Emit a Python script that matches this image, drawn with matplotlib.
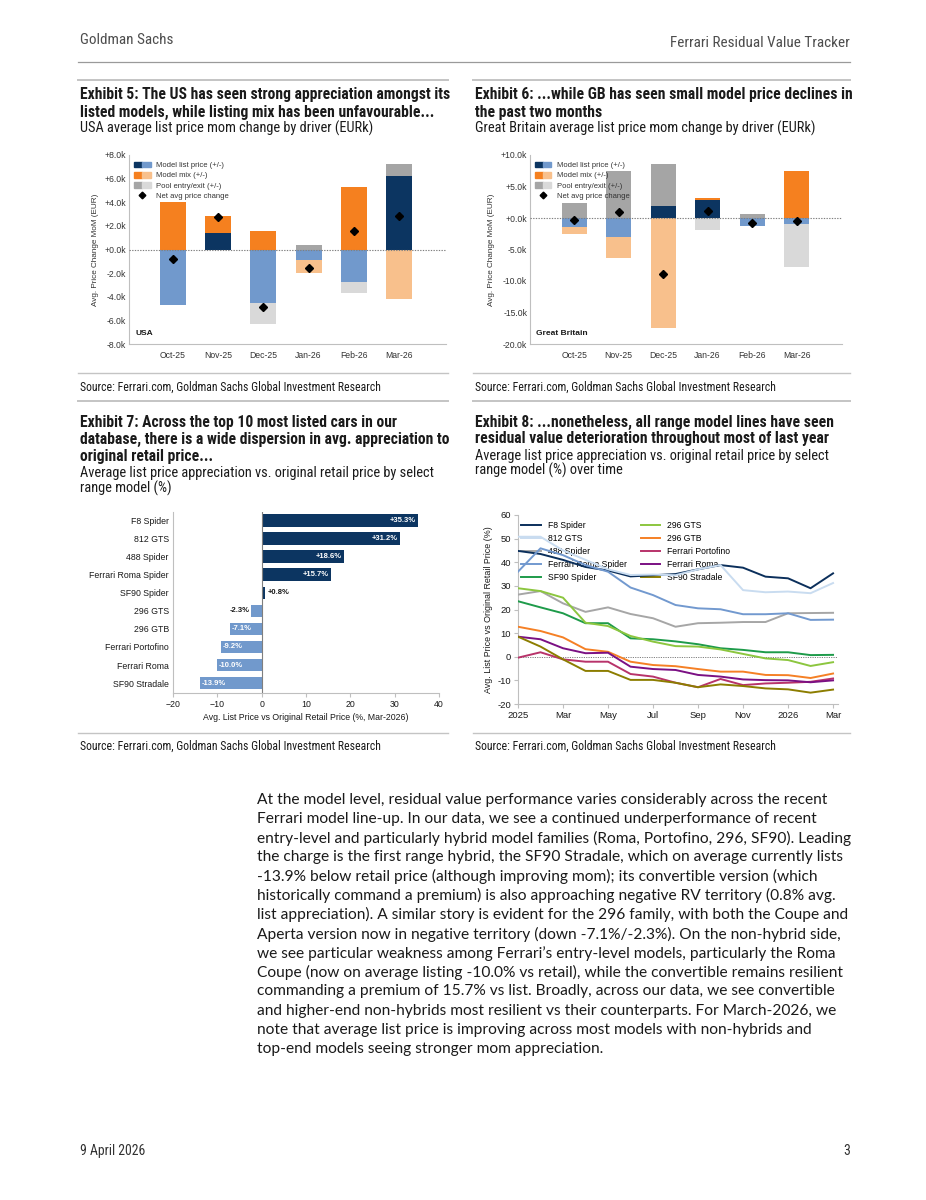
import numpy as np
import matplotlib
matplotlib.use('Agg')
import matplotlib.pyplot as plt
from matplotlib.patches import Patch
from matplotlib.lines import Line2D
from matplotlib.legend_handler import HandlerTuple
from matplotlib import font_manager as fm

# ---------------- data ----------------
bar_months = ['Oct-25', 'Nov-25', 'Dec-25', 'Jan-26', 'Feb-26', 'Mar-26']

us_list_price = [-4.7, 1.4, -4.5, -0.9, -2.75, 6.2]
us_model_mix = [4.0, 1.4, 1.55, -1.05, 5.3, -4.2]
us_pool = [0.0, 0.0, -1.8, 0.4, -0.95, 1.0]
us_net = [-0.8, 2.75, -4.85, -1.55, 1.6, 2.8]
us_yticks = [-8, -6, -4, -2, 0, 2, 4, 6, 8]

gb_list_price = [-1.5, -3.0, 1.9, 2.9, -1.2, -1.0]
gb_model_mix = [-1.0, -3.4, -17.5, 0.2, 0.0, 7.5]
gb_pool = [2.4, 7.5, 6.7, -1.9, 0.6, -6.8]
gb_net = [-0.3, 1.0, -8.9, 1.1, -0.8, -0.4]
gb_yticks = [-20, -15, -10, -5, 0, 5, 10]

driver_labels = ['Model list price (+/-)', 'Model mix (+/-)',
                 'Pool entry/exit (+/-)', 'Net avg price change']

top10_models = ['F8 Spider', '812 GTS', '488 Spider', 'Ferrari Roma Spider',
                'SF90 Spider', '296 GTS', '296 GTB', 'Ferrari Portofino',
                'Ferrari Roma', 'SF90 Stradale']
top10_values = [35.3, 31.2, 18.6, 15.7, 0.8, -2.3, -7.1, -9.2, -10.0, -13.9]
top10_xticks = [-20, -10, 0, 10, 20, 30, 40]

line_months = ['Jan-25', 'Feb-25', 'Mar-25', 'Apr-25', 'May-25', 'Jun-25',
               'Jul-25', 'Aug-25', 'Sep-25', 'Oct-25', 'Nov-25', 'Dec-25',
               'Jan-26', 'Feb-26', 'Mar-26']
line_tick_labels = ['2025', 'Mar', 'May', 'Jul', 'Sep', 'Nov', '2026', 'Mar']
line_yticks = [-20, -10, 0, 10, 20, 30, 40, 50, 60]

f8_spider = [44.8, 43.5, 41.0, 38.0, 36.5, 34.0, 34.5, 35.0, 37.0, 38.8, 37.7, 33.9, 33.2, 29.0, 35.3]
gts_812 = [50.8, 50.8, 45.0, 41.0, 37.0, 34.6, 34.8, 34.5, 37.0, 38.8, 28.2, 27.3, 27.6, 26.9, 31.2]
spider_488 = [26.3, 27.8, 22.6, 19.0, 20.9, 18.1, 16.3, 12.7, 14.2, 14.4, 14.7, 14.7, 18.4, 18.5, 18.6]
roma_spider = [36.0, 45.9, 43.0, 38.8, 36.0, 29.3, 26.1, 21.9, 20.5, 20.1, 18.0, 18.0, 18.4, 15.6, 15.7]
sf90_spider = [23.5, 20.9, 18.4, 14.2, 14.2, 7.8, 7.4, 6.5, 5.3, 3.6, 2.9, 1.9, 1.9, 0.7, 0.8]
gts_296 = [29.0, 27.8, 25.0, 14.4, 13.0, 8.8, 6.4, 4.5, 4.3, 3.1, 1.2, -0.7, -1.4, -3.9, -2.3]
gtb_296 = [12.7, 10.9, 8.2, 3.2, 2.1, -2.1, -3.5, -4.0, -5.2, -6.3, -6.3, -7.7, -7.8, -9.0, -7.1]
portofino = [-0.4, 1.9, -1.1, -2.1, -2.1, -7.3, -8.4, -11.0, -12.9, -9.4, -12.0, -11.3, -11.0, -10.6, -9.2]
roma = [8.5, 7.4, 3.6, 1.5, 1.7, -4.2, -5.2, -5.6, -7.7, -8.4, -9.6, -9.9, -10.0, -10.8, -10.0]
sf90_stradale = [8.5, 4.3, -1.1, -6.0, -6.0, -9.8, -9.8, -11.0, -12.9, -11.7, -12.4, -13.4, -13.8, -15.2, -13.9]

line_names = ['F8 Spider', '812 GTS', '488 Spider', 'Ferrari Roma Spider', 'SF90 Spider',
              '296 GTS', '296 GTB', 'Ferrari Portofino', 'Ferrari Roma', 'SF90 Stradale']
line_series = [f8_spider, gts_812, spider_488, roma_spider, sf90_spider,
               gts_296, gtb_296, portofino, roma, sf90_stradale]

# ---------------- style ----------------
NAVY = '#0c3561'
LBLUE = '#7199cc'
ORANGE = '#f5801f'
LORANGE = '#f8c08c'
DGRAY = '#a5a5a5'
LGRAY = '#d9d9d9'
SPINE = '#bfbfbf'
TXT = '#1a1a1a'
line_colors = ['#0b2f5b', '#c9dcf0', '#a6a6a6', '#7299cf', '#1e9b4a',
               '#8cc63f', '#f58025', '#b8336a', '#7b1083', '#8c7d00']

avail = {f.name for f in fm.fontManager.ttflist}
def pick(*names):
    for n in names:
        if n in avail:
            return n
    return 'DejaVu Sans'

COND = pick('Liberation Sans Narrow', 'Roboto Condensed', 'Open Sans Condensed', 'Roboto', 'Lato')
BODY = pick('Lato', 'Open Sans', 'Noto Sans', 'Roboto')
CHART = pick('Liberation Sans', 'Arial', 'DejaVu Sans')
plt.rcParams['font.family'] = [CHART, 'DejaVu Sans']

W, H = 926, 1200
fig = plt.figure(figsize=(W / 100, H / 100), dpi=100)
fig.patch.set_facecolor('white')
renderer = fig.canvas.get_renderer()

def fx(x):
    return x / W

def fy(y):
    return 1 - y / H

def axrect(l, t, r, b):
    return [fx(l), fy(b), (r - l) / W, (b - t) / H]

def fit_size(s, width, family, weight='normal'):
    t = fig.text(0, 0, s, fontsize=10, family=family, weight=weight)
    w = t.get_window_extent(renderer).width
    t.remove()
    return 10 * width / w

def ftext(x, y, s, size, family, weight='normal', color=TXT, ha='left', va='center'):
    return fig.text(fx(x), fy(y), s, fontsize=size, family=family, weight=weight,
                    color=color, ha=ha, va=va)

def hrule(x0, x1, y, color='#c4c4c4', lw=1.4):
    fig.add_artist(Line2D([fx(x0), fx(x1)], [fy(y), fy(y)], transform=fig.transFigure,
                          color=color, lw=lw))

# ---------------- page text ----------------
hdr = fit_size('Ferrari Residual Value Tracker', 178, COND)
ftext(80, 40, 'Goldman Sachs', hdr, COND, color='#4d4d4d')
ftext(850, 43, 'Ferrari Residual Value Tracker', hdr, COND, color='#4d4d4d', ha='right')
hrule(78, 850, 62, color='#9a9a9a', lw=0.9)

for x0, x1 in [(78, 448), (473, 850)]:
    hrule(x0, x1, 80)
    hrule(x0, x1, 373, lw=1.0)
    hrule(x0, x1, 401)
    hrule(x0, x1, 733, lw=1.0)

tsize = fit_size('database, there is a wide dispersion in avg. appreciation to', 369, COND, 'bold')
ssize = fit_size('Average list price appreciation vs. original retail price by select', 354, COND)

ftext(80, 95, 'Exhibit 5: The US has seen strong appreciation amongst its', tsize, COND, 'bold')
ftext(80, 112, 'listed models, while listing mix has been unfavourable...', tsize, COND, 'bold')
ftext(80, 128, 'USA average list price mom change by driver (EURk)', ssize, COND)

ftext(475, 95, 'Exhibit 6: ...while GB has seen small model price declines in', tsize, COND, 'bold')
ftext(475, 112, 'the past two months', tsize, COND, 'bold')
ftext(475, 128, 'Great Britain average list price mom change by driver (EURk)', ssize, COND)

ftext(80, 422, 'Exhibit 7: Across the top 10 most listed cars in our', tsize, COND, 'bold')
ftext(80, 439, 'database, there is a wide dispersion in avg. appreciation to', tsize, COND, 'bold')
ftext(80, 456, 'original retail price...', tsize, COND, 'bold')
ftext(80, 473, 'Average list price appreciation vs. original retail price by select', ssize, COND)
ftext(80, 488, 'range model (%)', ssize, COND)

ftext(475, 422, 'Exhibit 8: ...nonetheless, all range model lines have seen', tsize, COND, 'bold')
ftext(475, 439, 'residual value deterioration throughout most of last year', tsize, COND, 'bold')
ftext(475, 456, 'Average list price appreciation vs. original retail price by select', ssize, COND)
ftext(475, 470, 'range model (%) over time', ssize, COND)

src = 'Source: Ferrari.com, Goldman Sachs Global Investment Research'
srcsize = fit_size(src, 300, COND)
for x0 in (80, 475):
    ftext(x0, 387, src, srcsize, COND)
    ftext(x0, 746, src, srcsize, COND)

para = [
    "At the model level, residual value performance varies considerably across the recent",
    "Ferrari model line-up. In our data, we see a continued underperformance of recent",
    "entry-level and particularly hybrid model families (Roma, Portofino, 296, SF90). Leading",
    "the charge is the first range hybrid, the SF90 Stradale, which on average currently lists",
    "-13.9% below retail price (although improving mom); its convertible version (which",
    "historically command a premium) is also approaching negative RV territory (0.8% avg.",
    "list appreciation). A similar story is evident for the 296 family, with both the Coupe and",
    "Aperta version now in negative territory (down -7.1%/-2.3%). On the non-hybrid side,",
    "we see particular weakness among Ferrari\u2019s entry-level models, particularly the Roma",
    "Coupe (now on average listing -10.0% vs retail), while the convertible remains resilient",
    "commanding a premium of 15.7% vs list. Broadly, across our data, we see convertible",
    "and higher-end non-hybrids most resilient vs their counterparts. For March-2026, we",
    "note that average list price is improving across most models with non-hybrids and",
    "top-end models seeing stronger mom appreciation.",
]
psize = fit_size(para[2], 595, BODY)
for i, line in enumerate(para):
    ftext(257, 800 + i * 19.15, line, psize, BODY)

fsize = fit_size('9 April 2026', 65, COND)
ftext(80, 1151, '9 April 2026', fsize, COND, color='#333333')
ftext(850, 1151, '3', fsize, COND, color='#333333', ha='right')

# ---------------- Exhibits 5 & 6 ----------------
def driver_chart(rect, comps, net, yticks, xlim, width, region):
    ax = fig.add_axes(rect)
    x = np.arange(len(bar_months))
    pos_base = np.zeros(len(x))
    neg_base = np.zeros(len(x))
    for vals, cp, cn in zip(comps, [NAVY, ORANGE, DGRAY], [LBLUE, LORANGE, LGRAY]):
        v = np.asarray(vals, dtype=float)
        pos = np.where(v > 0, v, 0)
        neg = np.where(v < 0, v, 0)
        ax.bar(x, pos, width, bottom=pos_base, color=cp, linewidth=0, zorder=2)
        ax.bar(x, neg, width, bottom=neg_base, color=cn, linewidth=0, zorder=2)
        pos_base += pos
        neg_base += neg
    ax.axhline(0, color='#7f7f7f', lw=0.8, ls=(0, (1.2, 1.2)), zorder=3)
    ax.plot(x, net, linestyle='none', marker='D', ms=3.6, color='black', zorder=4)
    ax.set_xlim(*xlim)
    ax.set_ylim(yticks[0], yticks[-1])
    ax.set_yticks(yticks)
    ax.set_yticklabels([f'{v:+.1f}k' for v in yticks])
    ax.set_xticks(x)
    ax.set_xticklabels(bar_months)
    for s in ['top', 'right']:
        ax.spines[s].set_visible(False)
    for s in ['left', 'bottom']:
        ax.spines[s].set_color(SPINE)
        ax.spines[s].set_linewidth(0.8)
    ax.tick_params(axis='both', labelsize=6.2, colors='#333333', length=0, pad=2)
    ax.tick_params(axis='x', pad=5)
    ax.set_ylabel('Avg. Price Change MoM (EUR)', fontsize=5.9, color='#333333', labelpad=4)
    handles = [(Patch(color=NAVY), Patch(color=LBLUE)),
               (Patch(color=ORANGE), Patch(color=LORANGE)),
               (Patch(color=DGRAY), Patch(color=LGRAY)),
               Line2D([], [], linestyle='none', marker='D', ms=3.4, color='black')]
    leg = ax.legend(handles, driver_labels, handler_map={tuple: HandlerTuple(ndivide=None, pad=0)},
                    loc='upper left', bbox_to_anchor=(0.015, 0.965), frameon=False, fontsize=5.5,
                    handlelength=2.2, handleheight=0.8, labelspacing=0.34, handletextpad=0.7,
                    borderaxespad=0, borderpad=0)
    for t in leg.get_texts():
        t.set_color('#333333')
    ax.text(0.02, 0.058, region, transform=ax.transAxes, fontsize=6, weight='bold',
            color='#1a1a1a', va='center')
    return ax

driver_chart(axrect(129, 155, 446, 344), [us_list_price, us_model_mix, us_pool], us_net,
             us_yticks, (-0.97, 6.04), 0.575, 'USA')
driver_chart(axrect(530, 155, 842, 344), [gb_list_price, gb_model_mix, gb_pool], gb_net,
             gb_yticks, (-0.99, 6.02), 0.56, 'Great Britain')

# ---------------- Exhibit 7 ----------------
ax7 = fig.add_axes(axrect(173, 512, 439, 693))
y7 = np.arange(len(top10_models))
cols7 = [NAVY if v > 0 else LBLUE for v in top10_values]
ax7.barh(y7, top10_values, height=0.7, color=cols7, linewidth=0, zorder=2)
ax7.axvline(0, color='#7f7f7f', lw=0.8, zorder=3)
for yi, v in zip(y7, top10_values):
    lab = f'{v:+.1f}%' if v > 0 else f'{v:.1f}%'
    if abs(v) < 5:
        if v > 0:
            ax7.text(v + 0.5, yi, lab, ha='left', va='center', fontsize=5.5, weight='bold', color='#1a1a1a')
        else:
            ax7.text(v - 0.4, yi, lab, ha='right', va='center', fontsize=5.5, weight='bold', color='#1a1a1a')
    else:
        if v > 0:
            ax7.text(v - 0.5, yi, lab, ha='right', va='center', fontsize=5.5, weight='bold', color='white')
        else:
            ax7.text(v + 0.4, yi, lab, ha='left', va='center', fontsize=5.5, weight='bold', color='white')
ax7.set_xlim(-20, 40)
ax7.set_ylim(9.55, -0.48)
ax7.set_yticks(y7)
ax7.set_yticklabels(top10_models)
ax7.set_xticks(top10_xticks)
ax7.set_xticklabels([f'{v}'.replace('-', '\u2212') for v in top10_xticks])
for s in ['top', 'right']:
    ax7.spines[s].set_visible(False)
for s in ['left', 'bottom']:
    ax7.spines[s].set_color(SPINE)
    ax7.spines[s].set_linewidth(0.8)
ax7.tick_params(axis='y', length=0, labelsize=6.3, colors='#1a1a1a', pad=3)
ax7.tick_params(axis='x', length=3, labelsize=6.3, colors='#1a1a1a', pad=2)
ax7.tick_params(axis='x', color=SPINE)
ax7.set_xlabel('Avg. List Price vs Original Retail Price (%, Mar-2026)', fontsize=6.3,
               color='#1a1a1a', labelpad=3)

# ---------------- Exhibit 8 ----------------
ax8 = fig.add_axes(axrect(518, 515, 838, 704))
x8 = np.arange(len(line_months))
for name, vals, c in zip(line_names, line_series, line_colors):
    ax8.plot(x8, vals, color=c, lw=1.4, label=name, solid_joinstyle='round', zorder=3)
ax8.axhline(0, color='#7f7f7f', lw=0.7, ls=(0, (1.2, 1.2)), zorder=2)
ax8.set_xlim(0, 14.22)
ax8.set_ylim(-20, 60)
ax8.set_yticks(line_yticks)
ax8.set_yticklabels([str(v) for v in line_yticks])
ax8.set_xticks(x8[::2])
ax8.set_xticklabels(line_tick_labels)
for s in ['top', 'right']:
    ax8.spines[s].set_visible(False)
for s in ['left', 'bottom']:
    ax8.spines[s].set_color(SPINE)
    ax8.spines[s].set_linewidth(0.8)
ax8.tick_params(axis='both', length=3, labelsize=6.8, colors='#1a1a1a', pad=2)
ax8.tick_params(axis='both', color=SPINE)
ax8.set_ylabel('Avg. List Price vs Original Retail Price (%)', fontsize=6.4, color='#1a1a1a', labelpad=3)
leg8 = ax8.legend(ncol=2, loc='upper left', bbox_to_anchor=(0.01, 0.968), frameon=False,
                  fontsize=6.2, handlelength=2.3, handletextpad=0.8, labelspacing=0.45,
                  columnspacing=1.6, borderaxespad=0, borderpad=0)
leg8.set_zorder(1)

fig.savefig('out.png', dpi=100, facecolor='white')
